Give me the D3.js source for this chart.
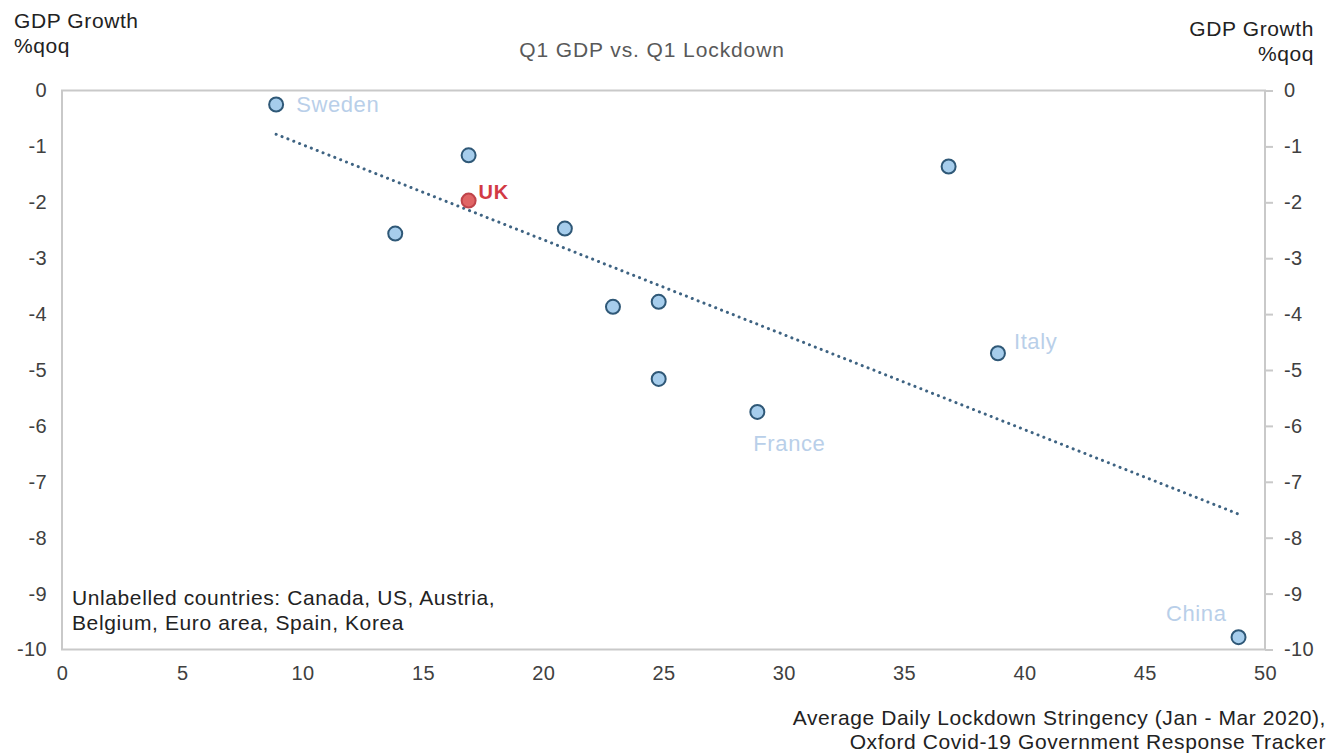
<!DOCTYPE html>
<html>
<head>
<meta charset="utf-8">
<script src="https://cdn.jsdelivr.net/npm/d3@7"></script>
<style>
  body { margin: 0; background: #fff; }
  text { font-family: "Liberation Sans", Arial, sans-serif; }
</style>
</head>
<body>
<div id="chart"></div>
<script>
var chartWidth = 1332;
var chartHeight = 754;

// data
var countries = ["Sweden", "", "UK", "", "", "", "", "", "France", "", "Italy", "China"];
var stringency = [8.9, 16.9, 16.9, 13.85, 20.9, 22.9, 24.8, 24.8, 28.9, 36.85, 38.9, 48.9];
var gdpGrowth = [-0.25, -1.16, -1.97, -2.56, -2.47, -3.87, -3.78, -5.16, -5.75, -1.36, -4.7, -9.78];
var xTicks = [0, 5, 10, 15, 20, 25, 30, 35, 40, 45, 50];
var yTicks = [0, -1, -2, -3, -4, -5, -6, -7, -8, -9, -10];

var points = countries.map((c, i) => ({name: c, x: stringency[i], y: gdpGrowth[i]}));

var svg = d3.select("#chart")
    .append("svg")
    .attr("width", chartWidth)
    .attr("height", chartHeight);

var plot = {left: 62, right: 1265, top: 90.5, bottom: 649.5};

var xScale = d3.scaleLinear().domain([0, 50]).range([plot.left, plot.right]);
var yScale = d3.scaleLinear().domain([-10, 0]).range([plot.bottom, plot.top]);

var axisColor = "#c9c9c9";
var labelColor = "#404040";
var fontSize = "21px";
var spacing = "0.6px";

// frame
svg.append("rect")
    .attr("x", plot.left)
    .attr("y", plot.top)
    .attr("width", plot.right - plot.left)
    .attr("height", plot.bottom - plot.top)
    .attr("fill", "none")
    .attr("stroke", axisColor)
    .attr("stroke-width", 2);

var fmt = d => String(d);

// left axis: labels only
var yAxisLeft = d3.axisLeft(yScale).tickValues(yTicks).tickSize(0).tickPadding(15).tickFormat(fmt);
var gLeft = svg.append("g")
    .attr("transform", "translate(" + plot.left + ",0)")
    .call(yAxisLeft);

// right axis: outward ticks
var yAxisRight = d3.axisRight(yScale).tickValues(yTicks).tickSize(8).tickPadding(11).tickFormat(fmt);
var gRight = svg.append("g")
    .attr("transform", "translate(" + plot.right + ",0)")
    .call(yAxisRight);

var xAxis = d3.axisBottom(xScale).tickValues(xTicks).tickSize(0).tickPadding(16).tickFormat(fmt);
var gBottom = svg.append("g")
    .attr("transform", "translate(0," + plot.bottom + ")")
    .call(xAxis);

[gLeft, gRight, gBottom].forEach(g => {
  g.select(".domain").remove();
  g.selectAll(".tick line").attr("stroke", axisColor).attr("stroke-width", 2);
  g.selectAll(".tick text")
      .attr("fill", labelColor)
      .style("font-size", "20px")
      .style("letter-spacing", "0.4px")
      .style("font-family", "'Liberation Sans', Arial, sans-serif");
});

// regression trend line
var mx = d3.mean(stringency), my = d3.mean(gdpGrowth);
var slope = d3.sum(stringency, (x, i) => (x - mx) * (gdpGrowth[i] - my)) /
    d3.sum(stringency, x => (x - mx) * (x - mx));
var intercept = my - slope * mx;
var xExt = d3.extent(stringency);

svg.append("line")
    .attr("x1", xScale(xExt[0]))
    .attr("y1", yScale(intercept + slope * xExt[0]))
    .attr("x2", xScale(xExt[1]))
    .attr("y2", yScale(intercept + slope * xExt[1]))
    .attr("stroke", "#3e6382")
    .attr("stroke-width", 3)
    .attr("stroke-linecap", "round")
    .attr("stroke-dasharray", "0.1 6.2");

// points
svg.selectAll("circle.pt")
    .data(points)
    .enter()
    .append("circle")
    .attr("class", "pt")
    .attr("cx", d => xScale(d.x))
    .attr("cy", d => yScale(d.y))
    .attr("r", 7)
    .attr("fill", d => d.name === "UK" ? "#e06565" : "#a6cdec")
    .attr("stroke", d => d.name === "UK" ? "#c0444a" : "#2f5877")
    .attr("stroke-width", 2);

// point labels
var labelOffsets = {
  "Sweden": [20, 8, "start"],
  "UK": [10, -2, "start"],
  "France": [-4, 39, "start"],
  "Italy": [16, -4, "start"],
  "China": [-12, -16, "end"]
};
svg.selectAll("text.pt-label")
    .data(points.filter(d => d.name !== ""))
    .enter()
    .append("text")
    .attr("class", "pt-label")
    .attr("x", d => xScale(d.x) + labelOffsets[d.name][0])
    .attr("y", d => yScale(d.y) + labelOffsets[d.name][1])
    .attr("text-anchor", d => labelOffsets[d.name][2])
    .attr("fill", d => d.name === "UK" ? "#d23a44" : "#b9cfe9")
    .style("font-weight", d => d.name === "UK" ? "bold" : "normal")
    .style("font-size", d => d.name === "UK" ? "20px" : "22px")
    .style("letter-spacing", "0.6px")
    .text(d => d.name);

// title
svg.append("text")
    .attr("x", 652)
    .attr("y", 57)
    .attr("text-anchor", "middle")
    .attr("fill", "#595959")
    .style("font-size", fontSize)
    .style("letter-spacing", "0.9px")
    .text("Q1 GDP vs. Q1 Lockdown");

// y axis titles
var yTitle = ["GDP Growth", "%qoq"];
svg.append("text")
    .attr("fill", "#222")
    .style("font-size", fontSize)
    .style("letter-spacing", spacing)
    .selectAll("tspan")
    .data(yTitle)
    .enter()
    .append("tspan")
    .attr("x", 14)
    .attr("y", (d, i) => 28 + i * 25)
    .text(d => d);

svg.append("text")
    .attr("fill", "#222")
    .attr("text-anchor", "end")
    .style("font-size", fontSize)
    .style("letter-spacing", spacing)
    .selectAll("tspan")
    .data(yTitle)
    .enter()
    .append("tspan")
    .attr("x", 1314)
    .attr("y", (d, i) => 36 + i * 25)
    .text(d => d);

// x axis title
var xTitle = ["Average Daily Lockdown Stringency (Jan - Mar 2020),", "Oxford Covid-19 Government Response Tracker"];
svg.append("text")
    .attr("fill", "#222")
    .attr("text-anchor", "end")
    .style("font-size", fontSize)
    .style("letter-spacing", spacing)
    .selectAll("tspan")
    .data(xTitle)
    .enter()
    .append("tspan")
    .attr("x", 1326)
    .attr("y", (d, i) => 725 + i * 24)
    .text(d => d);

// note
var note = ["Unlabelled countries: Canada, US, Austria,", "Belgium, Euro area, Spain, Korea"];
svg.append("text")
    .attr("fill", "#222")
    .style("font-size", fontSize)
    .style("letter-spacing", spacing)
    .selectAll("tspan")
    .data(note)
    .enter()
    .append("tspan")
    .attr("x", 72)
    .attr("y", (d, i) => 605 + i * 25)
    .text(d => d);
</script>
</body>
</html>
